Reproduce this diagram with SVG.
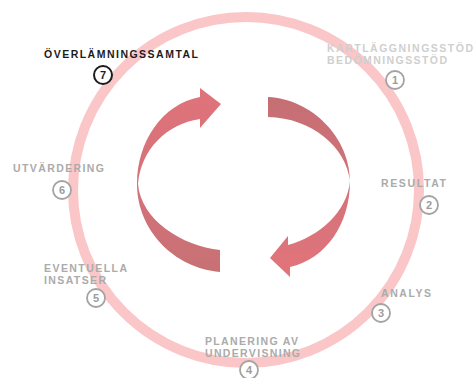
<svg xmlns="http://www.w3.org/2000/svg" width="473" height="378" viewBox="0 0 473 378">
<defs>
<style>
.lbl{font-family:"Liberation Sans",Arial,sans-serif;font-size:10.5px;font-weight:bold;fill:#ababab;}
.faint{fill:#cfcfcf;}
.dark{fill:#1c1c1c;}
.num{fill:#fff;stroke:#a3a3a3;stroke-width:1.8;}
.numt{font-family:"Liberation Sans",Arial,sans-serif;font-size:11px;font-weight:bold;fill:#9c9c9c;text-anchor:middle;}
</style>
<linearGradient id="gl" x1="0" y1="0" x2="0" y2="1">
<stop offset="0" stop-color="#e0737a"/>
<stop offset="0.5" stop-color="#d5727a"/>
<stop offset="1" stop-color="#c77174"/>
</linearGradient>
<linearGradient id="gr" x1="0" y1="0" x2="0" y2="1">
<stop offset="0" stop-color="#c46f73"/>
<stop offset="0.5" stop-color="#d4727a"/>
<stop offset="1" stop-color="#e2747a"/>
</linearGradient>
</defs>
<rect width="473" height="378" fill="#fff"/>
<g id="connectors">
<circle id="ring" cx="246" cy="190" r="173" fill="none" stroke="#fac6c7" stroke-width="10"/>
<path id="arrow-left" fill="url(#gl)" d="M200 97 C162 104 137 142 137 184 C137 230 174 268 220 272 L220 250 C182 246 141 220 138 184 C141 150 166 124 200 119 L200 128 L221 104 L200 88 Z"/>
<path id="arrow-right" fill="url(#gr)" d="M268 97 C312 99 350 138 350 181 C350 224 326 259 290 267 L290 277 L270 258 L288 236 L288 245 C320 236 347 212 350 181 C346 147 312 118 268 117 Z"/>
</g>
<g id="node7">
<text class="lbl dark" x="44" y="58" textLength="154" lengthAdjust="spacing">ÖVERLÄMNINGSSAMTAL</text>
<circle cx="103" cy="75" r="9" fill="#fff" stroke="#1c1c1c" stroke-width="2"/>
<text class="numt" x="103" y="79" style="fill:#1c1c1c">7</text>
</g>
<g id="node1">
<text class="lbl faint" x="327" y="52" textLength="146" lengthAdjust="spacing">KARTLÄGGNINGSSTÖD</text>
<text class="lbl faint" x="327" y="64" textLength="120" lengthAdjust="spacing">BEDÖMNINGSSTÖD</text>
<circle class="num" cx="395" cy="80" r="9"/>
<text class="numt" x="395" y="84">1</text>
</g>
<g id="node2">
<text class="lbl" x="381" y="187" textLength="65" lengthAdjust="spacing">RESULTAT</text>
<circle class="num" cx="429" cy="205" r="9"/>
<text class="numt" x="429" y="209">2</text>
</g>
<g id="node3">
<text class="lbl" x="381" y="297" textLength="50" lengthAdjust="spacing">ANALYS</text>
<circle class="num" cx="381" cy="313" r="9"/>
<text class="numt" x="381" y="317">3</text>
</g>
<g id="node4">
<text class="lbl" x="205" y="345" textLength="93" lengthAdjust="spacing">PLANERING AV</text>
<text class="lbl" x="205" y="357" textLength="95" lengthAdjust="spacing">UNDERVISNING</text>
<circle class="num" cx="249" cy="370" r="9"/>
<text class="numt" x="249" y="374">4</text>
</g>
<g id="node5">
<text class="lbl" x="44" y="272" textLength="83" lengthAdjust="spacing">EVENTUELLA</text>
<text class="lbl" x="44" y="284" textLength="62" lengthAdjust="spacing">INSATSER</text>
<circle class="num" cx="96" cy="298" r="9"/>
<text class="numt" x="96" y="302">5</text>
</g>
<g id="node6">
<text class="lbl" x="13" y="172" textLength="91" lengthAdjust="spacing">UTVÄRDERING</text>
<circle class="num" cx="62" cy="190" r="9"/>
<text class="numt" x="62" y="194">6</text>
</g>
</svg>
